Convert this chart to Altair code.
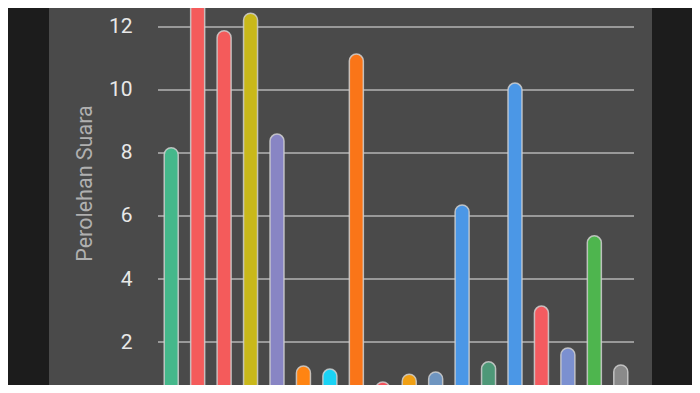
import altair as alt
import pandas as pd

parties = ["PKB", "Gerindra", "PDIP", "Golkar", "NasDem", "Buruh", "Gelora", "PKS", "PKN",
           "Hanura", "Garuda", "PAN", "PBB", "Demokrat", "PSI", "Perindo", "PPP", "Ummat"]
votes = [8.17, 13.5, 11.88, 12.44, 8.6, 1.24, 1.14, 11.14, 0.73,
         0.98, 1.05, 6.35, 1.37, 10.22, 3.14, 1.81, 5.37, 1.27]
colors = ["#45b88b", "#f45b5b", "#f45b5b", "#c9b81a", "#8885c4", "#ff8412", "#1ad3f5", "#fa7518", "#f4505a",
          "#f0a014", "#6f95c0", "#4b97e6", "#4e9878", "#4b97e6", "#f45b60", "#7b90d0", "#4eb54e", "#8a8a8a"]
grid_values = [2, 4, 6, 8, 10, 12]

df = pd.DataFrame({"partai": parties, "suara": votes})
grid_df = pd.DataFrame({"g": grid_values})

x_scale = alt.Scale(domain=parties, paddingInner=0, paddingOuter=0, range=[109, 585])
y_scale = alt.Scale(domain=[0.635, 12.603], nice=False, zero=False)

grid = alt.Chart(grid_df).mark_rule(color="#b4b4b4", strokeWidth=1.6).encode(
    y=alt.Y("g:Q", scale=y_scale,
            axis=alt.Axis(values=grid_values, ticks=False, domain=False, grid=False,
                          offset=-83, labelPadding=0, labelFontSize=21, labelColor="#e8e8e8",
                          labelFont="Roboto", title="Perolehan Suara", titleFont="Roboto",
                          titleFontSize=21.5, titleFontWeight="normal", titleColor="#b0b0b0",
                          titleX=-47, titleY=175, titleAlign="center", titleBaseline="middle")),
    x=alt.X(datum=parties[0], type="nominal", scale=x_scale, bandPosition=0, axis=None),
    x2=alt.X2(datum=parties[-1], bandPosition=1),
)

bars = alt.Chart(df).mark_bar(width=14, cornerRadiusTopLeft=7, cornerRadiusTopRight=7,
                              stroke="#cfcfcf", strokeOpacity=0.85, strokeWidth=1.5, clip=True).encode(
    x=alt.X("partai:N", scale=x_scale, axis=None, sort=parties),
    y=alt.Y("suara:Q", scale=y_scale),
    y2=alt.datum(0),
    color=alt.Color("partai:N", scale=alt.Scale(domain=parties, range=colors), legend=None),
)

chart = alt.layer(grid, bars).properties(
    width=603, height=377,
    background="#1c1c1c",
    padding={"left": 41, "right": 40, "top": 0, "bottom": 0},
    autosize=alt.AutoSizeParams(type="none"),
).configure_view(fill="#4a4a4a", stroke=None)

chart.save("out.html", embed_options={"renderer": "svg", "actions": False})
